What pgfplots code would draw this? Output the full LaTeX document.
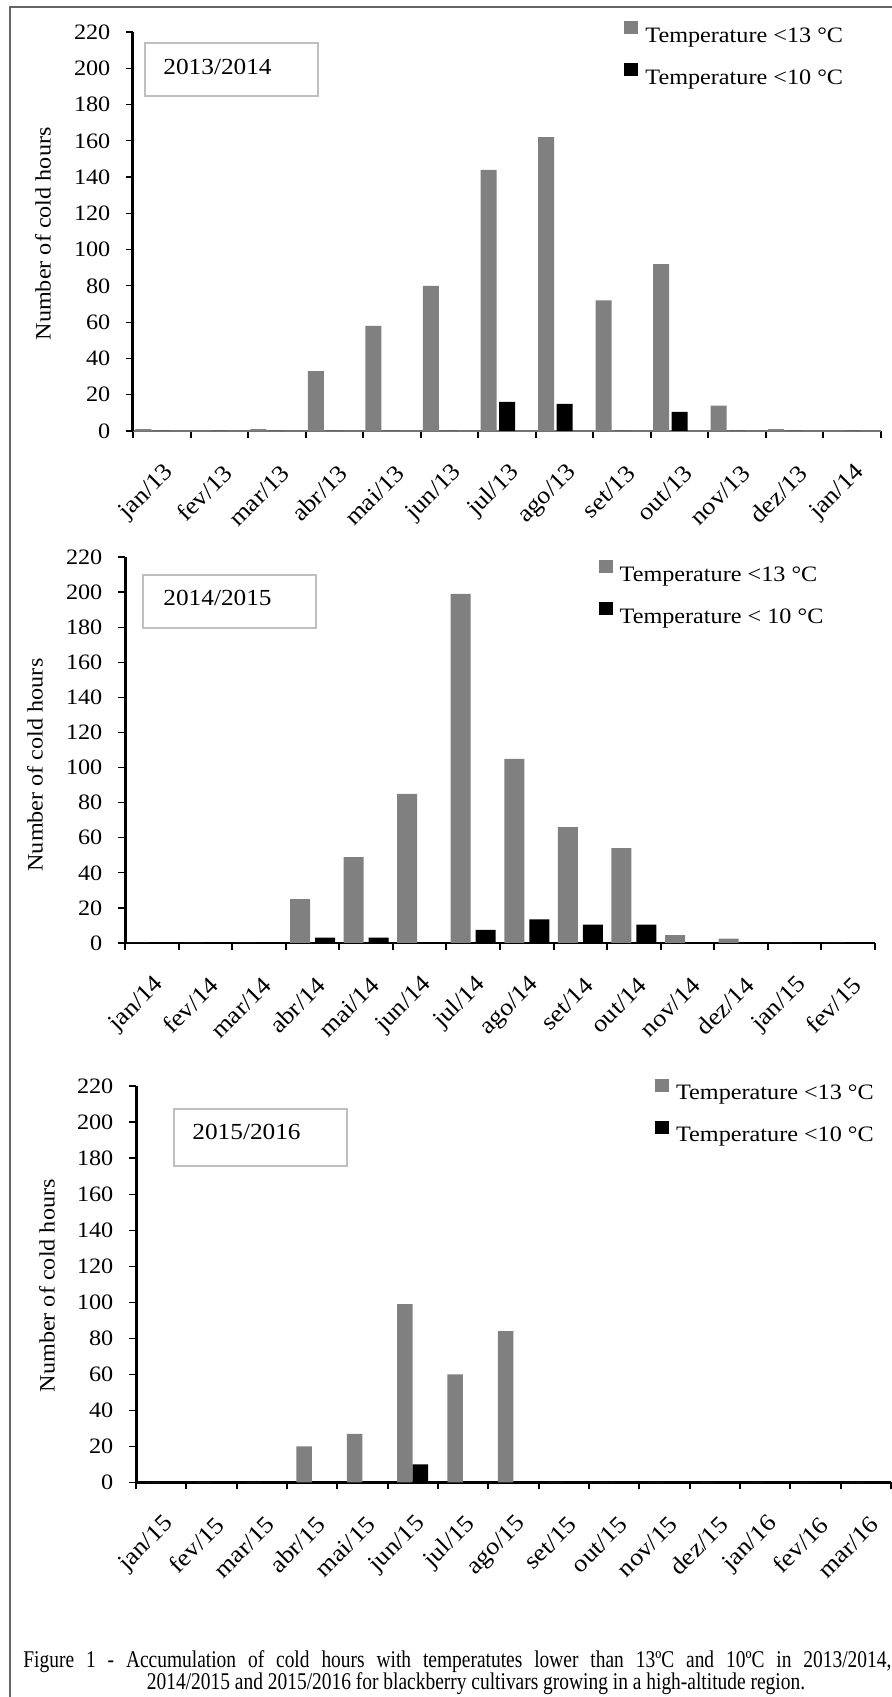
\documentclass[border=0pt]{standalone}
\usepackage{fontspec}
\setmainfont[FakeStretch=1.1]{Liberation Serif}
\newfontfamily\capfont[FakeStretch=0.81]{Liberation Serif}
\usepackage{pgfplots}
\pgfplotsset{compat=1.18}

% one style for the three panels
\pgfplotsset{
  coldpanel/.style={
    scale only axis,
    axis lines=left,
    axis line style={-},
    tick align=outside,
    enlargelimits=false,
    clip=false,
    ymin=0, ymax=220,
    ytick={0,20,...,220},
    major tick length=3.5pt,
    minor tick length=3.5pt,
    major x tick style={draw=none},
    minor x tick style={black, line width=1pt},
    y tick style={black, line width=0.6pt},
    /pgf/number format/assume math mode=true,
    yticklabel style={font=\fontsize{11}{13}\selectfont, xshift=-4.3pt},
    xticklabel style={font=\fontsize{12}{14}\selectfont, inner sep=0pt,
      xshift=4.5pt, yshift=-15.5pt, rotate=45, anchor=east},
    ylabel={Number of cold hours},
    ylabel style={font=\fontsize{11}{13}\selectfont, rotate=0},
    ybar,
    legend style={draw=none, fill=none, inner sep=0pt, anchor=north west,
      font=\fontsize{11}{13}\selectfont, row sep=9pt, column sep=3.5pt,
      nodes={inner sep=0pt}, cells={anchor=west}},
    legend cell align=left,
    legend image code/.code={\fill[##1] (0pt,1.2pt) rectangle (7pt,7.6pt);},
  },
}

\begin{document}
\begin{tikzpicture}
\useasboundingbox (0,0) rectangle (445.5pt,848.5pt);

% 2013/2014
\begin{axis}[coldpanel, at={(66.5pt,633pt)}, anchor=south west,
  width=374pt, height=199.5pt,
  xmin=-0.5, xmax=12.5,
  xtick={0,...,12},
  xticklabels={jan/13,fev/13,mar/13,abr/13,mai/13,jun/13,jul/13,ago/13,set/13,out/13,nov/13,dez/13,jan/14},
  minor xtick={-0.5,0.5,...,12.5},
  x axis line style={black!55, line width=0.6pt},
  y axis line style={black, line width=1.5pt},
  ylabel style={at={(rel axis cs:-0.1203,0.494)}, anchor=center},
  legend style={at={(rel axis cs:0.6564,1.0275)}},
]
\addplot[fill=gray, draw=none, bar width=8pt, bar shift=-9.25pt] coordinates {
  (0,1)(1,0)(2,1)(3,33)(4,58)(5,80)(6,144)(7,162)(8,72)(9,92)(10,14)(11,1)(12,0)};
\addplot[fill=black, draw=none, bar width=8pt, bar shift=0pt] coordinates {
  (0,0)(1,0)(2,0)(3,0)(4,0)(5,0)(6,16)(7,15)(8,0)(9,10.5)(10,0)(11,0)(12,0)};
\legend{Temperature <13 °C, Temperature <10 °C}
\end{axis}

% 2014/2015
\begin{axis}[coldpanel, at={(62.5pt,377pt)}, anchor=south west,
  width=375pt, height=193pt,
  xmin=-0.5, xmax=13.5,
  xtick={0,...,13},
  xticklabels={jan/14,fev/14,mar/14,abr/14,mai/14,jun/14,jul/14,ago/14,set/14,out/14,nov/14,dez/14,jan/15,fev/15},
  minor xtick={-0.5,0.5,...,13.5},
  x axis line style={black, line width=0.7pt},
  y axis line style={black, line width=1.5pt},
  ylabel style={at={(rel axis cs:-0.12,0.461)}, anchor=center},
  legend style={at={(rel axis cs:0.631,0.993)}},
]
\addplot[fill=gray, draw=none, bar width=10pt, bar shift=-6.25pt] coordinates {
  (0,0)(1,0)(2,0)(3,25)(4,49)(5,85)(6,199)(7,105)(8,66)(9,54)(10,4.5)(11,2.5)(12,0)(13,0)};
\addplot[fill=black, draw=none, bar width=10pt, bar shift=6.25pt] coordinates {
  (0,0)(1,0)(2,0)(3,3)(4,3)(5,0)(6,7.5)(7,13.5)(8,10.5)(9,10.5)(10,0)(11,0)(12,0)(13,0)};
\legend{Temperature <13 °C, Temperature < 10 °C}
\end{axis}

% 2015/2016
\begin{axis}[coldpanel, at={(68pt,107.25pt)}, anchor=south west,
  width=377.5pt, height=198.25pt,
  xmin=-0.5, xmax=14.5,
  xtick={0,...,14},
  xticklabels={jan/15,fev/15,mar/15,abr/15,mai/15,jun/15,jul/15,ago/15,set/15,out/15,nov/15,dez/15,jan/16,fev/16,mar/16},
  minor xtick={-0.5,0.5,...,14.5},
  x axis line style={black, line width=1.5pt},
  y axis line style={black, line width=1.5pt},
  ylabel style={at={(rel axis cs:-0.118,0.496)}, anchor=center},
  legend style={at={(rel axis cs:0.687,1.019)}},
]
\addplot[fill=gray, draw=none, bar width=7.75pt, bar shift=-4pt] coordinates {
  (0,0)(1,0)(2,0)(3,20)(4,27)(5,99)(6,60)(7,84)(8,0)(9,0)(10,0)(11,0)(12,0)(13,0)(14,0)};
\addplot[fill=black, draw=none, bar width=7.75pt, bar shift=3.75pt] coordinates {
  (0,0)(1,0)(2,0)(3,0)(4,0)(5,10)(6,0)(7,0)(8,0)(9,0)(10,0)(11,0)(12,0)(13,0)(14,0)};
\legend{Temperature <13 °C, Temperature <10 °C}
\end{axis}

% frame, year boxes and caption, in image pixels
\begin{scope}[shift={(0pt,848.5pt)}, x=0.5pt, y=-0.5pt]
  \draw[black!60, line width=0.6pt] (10,1697) -- (10,7) -- (895,7);
  \draw[black!25, line width=0.6pt] (145,43) rectangle (318,96);
  \node[anchor=west, inner sep=0pt, font=\fontsize{11.5}{13}\selectfont] at (163,67) {2013/2014};
  \draw[black!25, line width=0.6pt] (143,575) rectangle (316,628);
  \node[anchor=west, inner sep=0pt, font=\fontsize{11.5}{13}\selectfont] at (163,598) {2014/2015};
  \draw[black!25, line width=0.6pt] (174,1109) rectangle (347,1166);
  \node[anchor=west, inner sep=0pt, font=\fontsize{11.5}{13}\selectfont] at (192,1132) {2015/2016};
  \node[anchor=base west, inner sep=0pt, font=\fontsize{12}{14}\capfont] at (23,1668)
    {\makebox[434pt][s]{Figure 1 - Accumulation of cold hours with temperatutes lower than 13ºC and 10ºC in 2013/2014,}};
  \node[anchor=base, inner sep=0pt, font=\fontsize{12}{14}\capfont] at (476,1690)
    {2014/2015 and 2015/2016 for blackberry cultivars growing in a high-altitude region.};
\end{scope}
\end{tikzpicture}
\end{document}
